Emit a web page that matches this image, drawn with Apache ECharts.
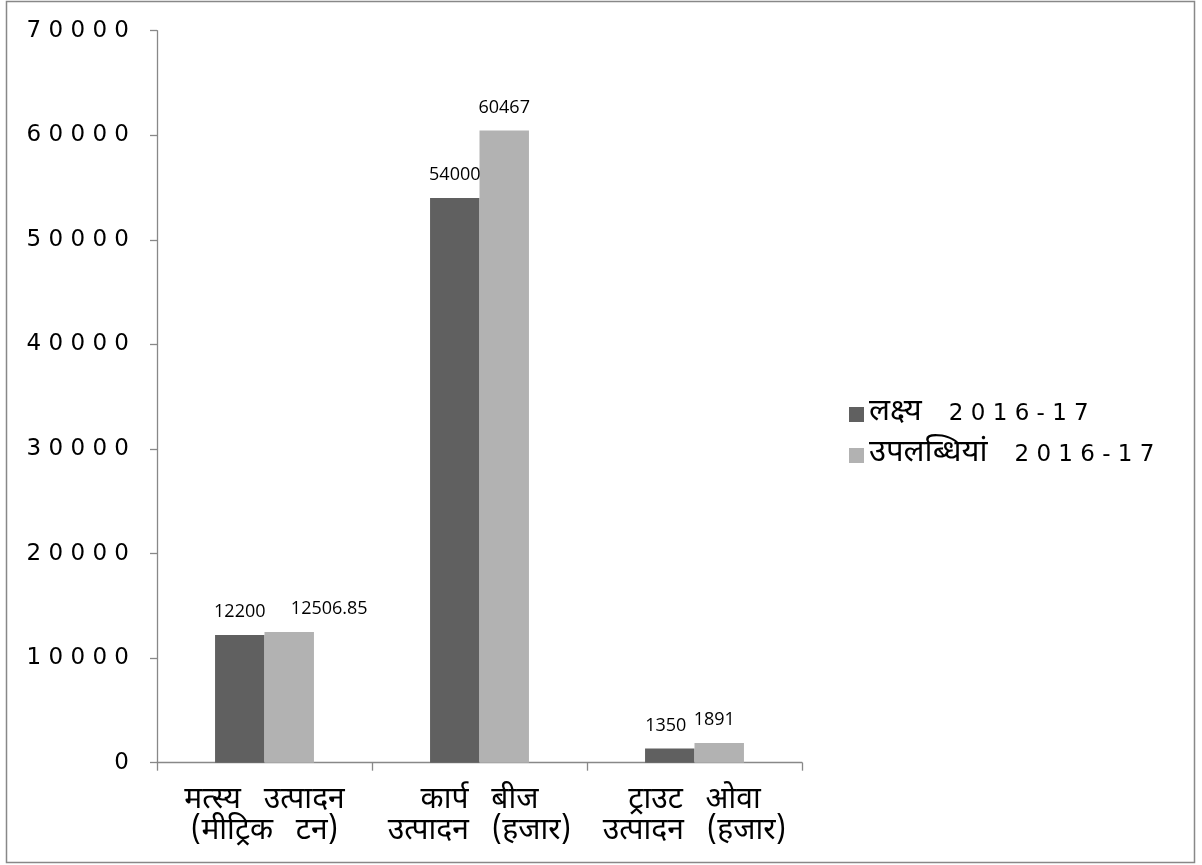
<!DOCTYPE html>
<html>
<head>
<meta charset="utf-8">
<script src="https://cdn.jsdelivr.net/npm/echarts@6/dist/echarts.min.js"></script>
<style>
html,body{margin:0;padding:0;background:#fff;}
#chart{width:1202px;height:865px;}
</style>
</head>
<body>
<div id="chart"></div>
<script>
const categories = ['मत्स्य उत्पादन\n(मीट्रिक टन)', 'कार्प बीज\nउत्पादन (हजार)', 'ट्राउट ओवा\nउत्पादन (हजार)'];
const seriesNames = ['लक्ष्य 2016-17', 'उपलब्धियां 2016-17'];
const targetValues = [12200, 54000, 1350];
const achievedValues = [12506.85, 60467, 1891];
const yTicks = [0, 10000, 20000, 30000, 40000, 50000, 60000, 70000];

function spaced(s){ return String(s).split('').join(' '); }
function wide(s){ return s.replace(/ /g, '\u2002 '); }
function legendFmt(name){
  const i = name.indexOf(' ');
  return '{a|' + name.slice(0, i) + '}{s|}{b|' + spaced(name.slice(i + 1)) + '}';
}
const devFont = '"Noto Sans Devanagari", "Noto Sans", "DejaVu Sans", sans-serif';
const numFont = '"DejaVu Sans", sans-serif';

const chart = echarts.init(document.getElementById('chart'), null, {renderer: 'canvas'});
const labelOffsets = [[[0,0],[0,0],[-4,0]], [[40,0],[0,0],[-5,0]]];

function mkData(vals, si){
  return vals.map((v, i) => ({value: v, label: {offset: labelOffsets[si][i]}}));
}

chart.setOption({
  backgroundColor: '#fff',
  animation: false,
  graphic: [{
    type: 'rect', silent: true,
    shape: {x: 6.5, y: 1.5, width: 1188, height: 861},
    style: {fill: 'none', stroke: '#888', lineWidth: 1.5}
  }],
  legend: {
    orient: 'vertical',
    left: 844, top: 394,
    itemWidth: 15, itemHeight: 15, itemGap: 10,
    icon: 'rect',
    formatter: legendFmt,
    textStyle: {
      color: '#000', lineHeight: 30,
      rich: {
        a: {fontFamily: devFont, fontSize: 31, color: '#000', lineHeight: 30},
        s: {width: 27},
        b: {fontFamily: numFont, fontSize: 23, color: '#000', lineHeight: 30}
      }
    }
  },
  grid: {left: 157, right: 400, top: 30.7, bottom: 102.3, containLabel: false},
  xAxis: {
    type: 'category',
    data: categories,
    axisLine: {lineStyle: {color: '#888', width: 1.3}},
    axisTick: {show: true, length: 8, lineStyle: {color: '#888', width: 1.3}},
    axisLabel: {margin: 24, fontFamily: devFont, fontSize: 30, color: '#000', lineHeight: 31, interval: 0,
      formatter: wide}
  },
  yAxis: {
    type: 'value',
    min: 0, max: 70000, interval: 10000,
    axisLine: {show: true, lineStyle: {color: '#888', width: 1.3}},
    axisTick: {show: true, length: 7, lineStyle: {color: '#888', width: 1.3}},
    splitLine: {show: false},
    axisLabel: {
      margin: 28, fontFamily: numFont, fontSize: 23, color: '#000',
      formatter: v => yTicks.indexOf(v) >= 0 ? spaced(v) : ''
    }
  },
  series: [
    {
      name: seriesNames[0], type: 'bar', data: mkData(targetValues, 0),
      barGap: '0%', barCategoryGap: '54%',
      itemStyle: {color: '#606060'},
      label: {show: true, position: 'top', distance: 14, fontFamily: '"Open Sans", sans-serif', fontSize: 18, color: '#000'}
    },
    {
      name: seriesNames[1], type: 'bar', data: mkData(achievedValues, 1),
      barGap: '0%', barCategoryGap: '54%',
      itemStyle: {color: '#b2b2b2'},
      label: {show: true, position: 'top', distance: 14, fontFamily: '"Open Sans", sans-serif', fontSize: 18, color: '#000'}
    }
  ]
});
</script>
</body>
</html>
